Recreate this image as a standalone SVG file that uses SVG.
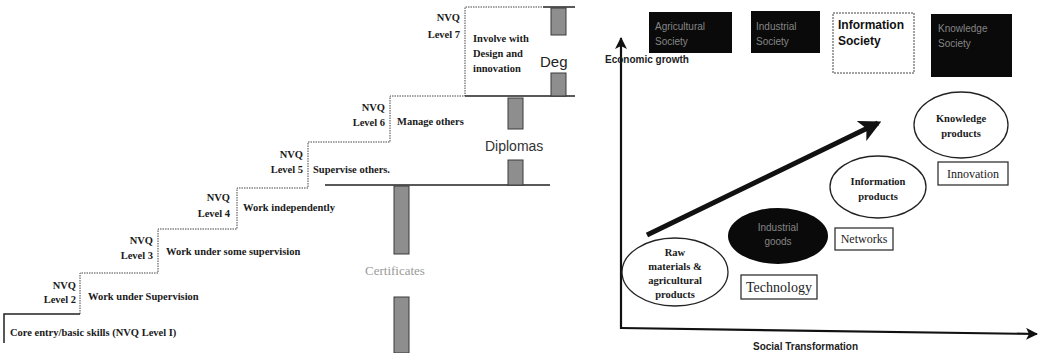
<svg xmlns="http://www.w3.org/2000/svg" width="1043" height="353" viewBox="0 0 1043 353">
<defs>
<marker id="arr" viewBox="0 0 12 12" refX="11" refY="6" markerWidth="12" markerHeight="12" markerUnits="userSpaceOnUse" orient="auto">
<path d="M0,0 L12,6 L0,12 L3,6 z" fill="#111"/>
</marker>
<marker id="bigarr" viewBox="0 0 12 12" refX="10" refY="6" markerWidth="22" markerHeight="22" markerUnits="userSpaceOnUse" orient="auto">
<path d="M0,0 L12,6 L0,12 L3,6 z" fill="#111"/>
</marker>
</defs>
<style>
.st{fill:none;stroke:#444;stroke-width:1;stroke-dasharray:1.5,1}
.sl{fill:none;stroke:#222;stroke-width:1.5}
.bar{fill:#8e8e8e;stroke:#3a3a3a;stroke-width:1}
.ser{font-family:"Liberation Serif","DejaVu Serif",serif;font-weight:bold;font-size:10.5px;fill:#1a1a1a}
.end{text-anchor:end}
.mid{text-anchor:middle}
.san{font-family:"Liberation Sans",Arial,sans-serif}
.blk{fill:#0a0a0a}
.faint{font-family:"Liberation Sans",Arial,sans-serif;font-size:10px;fill:#858585}
.ell{fill:#fff;stroke:#222;stroke-width:1.3}
.bx{fill:#fff;stroke:#333;stroke-width:1.3}
.reg{font-family:"Liberation Serif","DejaVu Serif",serif;fill:#222}
.ax{fill:none;stroke:#111;stroke-width:2.2}
</style>
<rect width="1043" height="353" fill="#fff"/>

<g id="staircase">
<path class="st" d="M80,314 V273 H158 V229 H237 V188 H308 V142 H390 V96 H465 V7 H543"/>
<path class="sl" d="M4,343 V314 H80"/>
<path class="sl" d="M543,7 H575"/>
<path class="sl" d="M465,96 H575"/>
<path class="sl" d="M325,185 H550"/>
</g>

<g id="level1"><text class="ser" x="10" y="336" font-size="11">Core entry/basic skills (NVQ Level I)</text></g>
<g id="level2">
<text class="ser end" x="76" y="289">NVQ</text>
<text class="ser end" x="76" y="303">Level 2</text>
<text class="ser" x="88" y="300">Work under Supervision</text>
</g>
<g id="level3">
<text class="ser end" x="153" y="244">NVQ</text>
<text class="ser end" x="153" y="259">Level 3</text>
<text class="ser" x="166" y="255">Work under some supervision</text>
</g>
<g id="level4">
<text class="ser end" x="230" y="201">NVQ</text>
<text class="ser end" x="230" y="217">Level 4</text>
<text class="ser" x="243" y="211">Work independently</text>
</g>
<g id="level5">
<text class="ser end" x="303" y="158">NVQ</text>
<text class="ser end" x="303" y="173">Level 5</text>
<text class="ser" x="313" y="173">Supervise others.</text>
</g>
<g id="level6">
<text class="ser end" x="385" y="111">NVQ</text>
<text class="ser end" x="385" y="126">Level 6</text>
<text class="ser" x="397" y="125">Manage others</text>
</g>
<g id="level7">
<text class="ser end" x="460" y="21">NVQ</text>
<text class="ser end" x="460" y="38">Level 7</text>
<text class="ser" x="473" y="42">Involve with</text>
<text class="ser" x="473" y="57">Design and</text>
<text class="ser" x="473" y="72">innovation</text>
</g>

<g id="degree">
<rect class="bar" x="551" y="8" width="15" height="27"/>
<rect class="bar" x="551" y="73" width="15" height="23"/>
<text class="san" x="540" y="67" font-size="15" fill="#222">Deg</text>
</g>
<g id="diplomas">
<rect class="bar" x="508" y="98" width="15" height="31"/>
<rect class="bar" x="508" y="160" width="15" height="25"/>
<text class="san" x="485" y="151" font-size="14" fill="#333">Diplomas</text>
</g>
<g id="certificates">
<rect class="bar" x="394" y="186" width="15" height="68"/>
<rect class="bar" x="394" y="297" width="15" height="56"/>
<text x="365" y="275" font-family="'Liberation Serif','DejaVu Serif',serif" font-size="13" fill="#9a9a9a">Certificates</text>
</g>

<g id="connectors">
<path class="ax" d="M621,329 V38" marker-end="url(#arr)"/>
<path class="ax" d="M621,328 L1037,334" marker-end="url(#arr)"/>
<path d="M647,235 L878,123" fill="none" stroke="#111" stroke-width="5" marker-end="url(#bigarr)"/>
</g>

<g id="axis-labels">
<text class="san" x="605" y="63" font-size="10" font-weight="bold" fill="#222">Economic growth</text>
<text class="san" x="753" y="350" font-size="10" font-weight="bold" fill="#222">Social Transformation</text>
</g>

<g id="agricultural-society">
<rect class="blk" x="649" y="12" width="83" height="41"/>
<text class="faint" x="655" y="30">Agricultural</text>
<text class="faint" x="655" y="45">Society</text>
</g>
<g id="industrial-society">
<rect class="blk" x="751" y="11" width="69" height="42"/>
<text class="faint" x="756" y="30">Industrial</text>
<text class="faint" x="756" y="45">Society</text>
</g>
<g id="information-society">
<rect x="833" y="13" width="81" height="60" fill="#fff" stroke="#444" stroke-width="1" stroke-dasharray="2,1"/>
<text class="san" x="838" y="29" font-size="12" font-weight="bold" fill="#111">Information</text>
<text class="san" x="838" y="45" font-size="12" font-weight="bold" fill="#111">Society</text>
</g>
<g id="knowledge-society">
<rect class="blk" x="931" y="14" width="81" height="63"/>
<text class="faint" x="938" y="32">Knowledge</text>
<text class="faint" x="938" y="47">Society</text>
</g>

<g id="knowledge-products">
<ellipse class="ell" cx="961" cy="125" rx="47" ry="33"/>
<text class="ser mid" x="961" y="122" font-size="10">Knowledge</text>
<text class="ser mid" x="961" y="137" font-size="10">products</text>
</g>
<g id="innovation">
<rect class="bx" x="938" y="162" width="70" height="23"/>
<text class="reg mid" x="973" y="178" font-size="12">Innovation</text>
</g>
<g id="information-products">
<ellipse class="ell" cx="878" cy="187" rx="48" ry="31"/>
<text class="ser mid" x="878" y="185" font-size="10">Information</text>
<text class="ser mid" x="878" y="200" font-size="10">products</text>
</g>
<g id="networks">
<rect class="bx" x="835" y="228" width="58" height="22"/>
<text class="reg mid" x="864" y="243" font-size="12">Networks</text>
</g>
<g id="industrial-goods">
<ellipse cx="778" cy="236" rx="50" ry="28" fill="#0a0a0a"/>
<text class="faint mid" x="778" y="231">Industrial</text>
<text class="faint mid" x="778" y="245">goods</text>
</g>
<g id="technology">
<rect class="bx" x="741" y="275" width="76" height="24"/>
<text class="reg mid" x="779" y="292" font-size="14">Technology</text>
</g>
<g id="raw-materials">
<ellipse class="ell" cx="675" cy="272" rx="53" ry="34"/>
<text class="ser mid" x="675" y="256" font-size="9.5">Raw</text>
<text class="ser mid" x="675" y="270" font-size="9.5">materials &amp;</text>
<text class="ser mid" x="675" y="284" font-size="9.5">agricultural</text>
<text class="ser mid" x="675" y="298" font-size="9.5">products</text>
</g>
</svg>
